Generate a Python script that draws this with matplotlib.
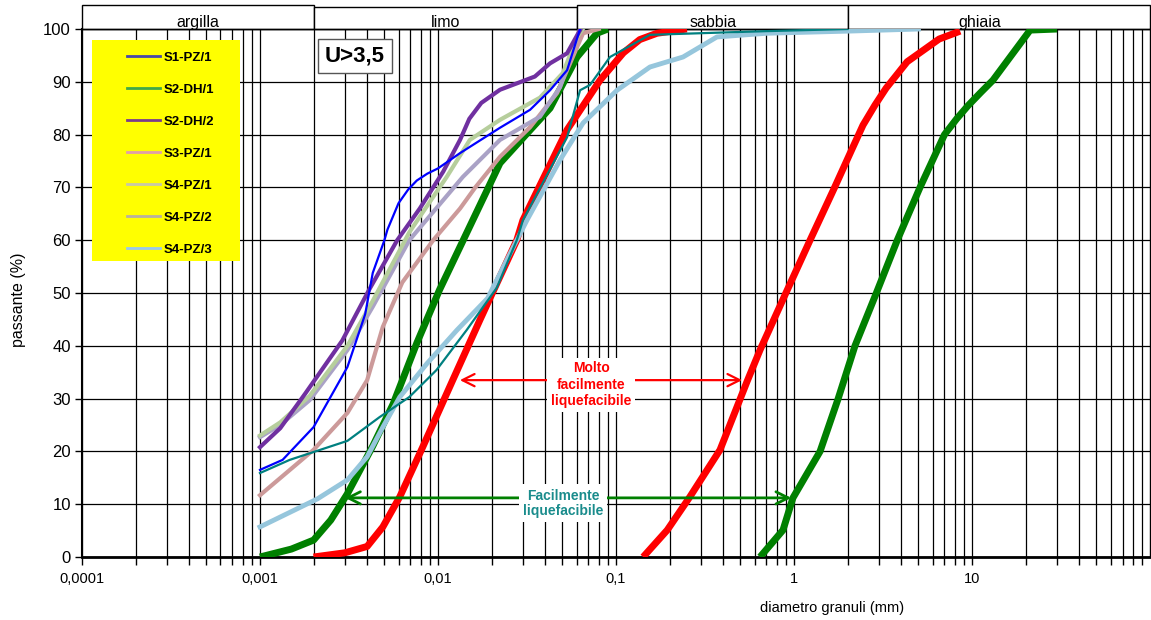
import numpy as np
import matplotlib
matplotlib.use("Agg")
import matplotlib.pyplot as plt
from matplotlib.lines import Line2D
from matplotlib.patches import Rectangle
from matplotlib.transforms import blended_transform_factory

plt.rcParams['font.family'] = ['Liberation Sans', 'DejaVu Sans']

# curve granulometriche (diametro mm, passante %)
s1_pz1_d = [0.001, 0.00134, 0.002, 0.0031, 0.0039, 0.0043, 0.005, 0.0052, 0.006, 0.0068, 0.0076, 0.0087, 0.01, 0.0133, 0.0223, 0.0329, 0.0426, 0.0531, 0.0628]
s1_pz1_p = [16.5, 18.4, 24.6, 36, 46, 53.8, 60, 62, 67, 69.6, 71.3, 72.6, 73.6, 76.5, 81.3, 84.7, 88.4, 92.2, 100]

s2_dh1_d = [0.001, 0.00147, 0.0031, 0.0047, 0.0069, 0.0098, 0.0145, 0.0214, 0.0277, 0.030, 0.0531, 0.0628, 0.0714, 0.0925, 0.155, 0.295, 0.7, 2]
s2_dh1_p = [15.9, 18.4, 22, 26.5, 30.3, 35.4, 43, 51, 60, 63.8, 79.5, 88.4, 89.4, 94.7, 98.9, 99.2, 99.6, 100]

s2_dh2_d = [0.001, 0.0013, 0.0018, 0.0029, 0.0041, 0.0059, 0.0079, 0.0107, 0.0133, 0.0150, 0.0175, 0.0223, 0.035, 0.0426, 0.0531, 0.0628]
s2_dh2_p = [20.8, 24.4, 31, 41, 50.6, 60, 66, 73, 79, 83, 86, 88.5, 91, 93.5, 95.4, 99.8]

s3_pz1_d = [0.001, 0.002, 0.0031, 0.004, 0.0049, 0.0063, 0.0094, 0.0133, 0.0162, 0.0223, 0.0329, 0.0467, 0.0531, 0.0653, 0.08]
s3_pz1_p = [11.7, 20.3, 27.3, 33.5, 43.6, 52, 60, 66, 70, 75.8, 81.4, 87.9, 92.2, 99.2, 100]

s4_pz1_d = [0.001, 0.0013, 0.0019, 0.0031, 0.0043, 0.0069, 0.0112, 0.0151, 0.0223, 0.0374, 0.0504, 0.0604, 0.065]
s4_pz1_p = [23, 25.5, 30.5, 40, 48.5, 61.5, 72, 79, 82.8, 87, 91.7, 98.5, 100]

s4_pz2_d = [0.001, 0.0013, 0.0019, 0.0031, 0.0043, 0.0069, 0.0138, 0.0223, 0.0374, 0.0485, 0.0628]
s4_pz2_p = [22.7, 25, 29.7, 39.2, 47.4, 60, 72, 79, 83.4, 89, 100]

s4_pz3_d = [0.001, 0.0021, 0.0031, 0.004, 0.0049, 0.0061, 0.0087, 0.0128, 0.019, 0.0277, 0.0316, 0.0485, 0.0653, 0.1013, 0.155, 0.238, 0.369, 0.705, 2, 5]
s4_pz3_p = [5.7, 11, 14.6, 19, 24.6, 30.3, 36.7, 43, 49, 60, 63.8, 75.2, 82.2, 88.4, 92.8, 94.7, 98.5, 99.2, 99.6, 100]

# fusi granulometrici di riferimento
molto_sx_d = [0.002, 0.003, 0.004, 0.0049, 0.0061, 0.0082, 0.0121, 0.0172, 0.0277, 0.030, 0.0531, 0.0813, 0.11, 0.136, 0.17, 0.25]
molto_sx_p = [0, 0.8, 2, 5.7, 11.4, 20.8, 33.5, 44.9, 60, 63.8, 80.9, 90.3, 95.5, 98, 99.2, 100]
molto_dx_d = [0.142, 0.194, 0.26, 0.384, 0.544, 0.644, 0.9, 1.23, 1.69, 2.1, 2.44, 2.85, 3.29, 4.32, 5.44, 6.53, 8.57]
molto_dx_p = [0, 5.1, 11.4, 20.3, 33.2, 39.2, 50, 60, 70, 77, 81.8, 85.6, 88.8, 93.8, 96.2, 98.1, 99.6]

facil_sx_d = [0.001, 0.0015, 0.002, 0.0025, 0.0031, 0.0043, 0.0056, 0.0076, 0.0102, 0.0223, 0.0426, 0.0604, 0.0782, 0.09]
facil_sx_p = [0, 1.5, 3.2, 7, 12, 21, 29, 40.5, 50.6, 74.6, 85, 94.7, 99.2, 100]
facil_dx_d = [0.644, 0.867, 0.986, 1.4, 1.77, 2.2, 2.9, 3.8, 5.1, 7.0, 8.2, 9.5, 11.2, 13.1, 21.2, 30]
facil_dx_p = [0, 5.1, 11.2, 20, 30, 40, 50, 60, 70, 80, 83, 85.5, 88, 90.3, 99.8, 100]

series_names = ['S1-PZ/1', 'S2-DH/1', 'S2-DH/2', 'S3-PZ/1', 'S4-PZ/1', 'S4-PZ/2', 'S4-PZ/3']
legend_colors = ['#4848A8', '#40A848', '#7A3C8C', '#E0A0A8', '#C8C8A8', '#B8B0A0', '#98C8EC']

classi = ['argilla', 'limo', 'sabbia', 'ghiaia']
classi_lim = [0.0001, 0.002, 0.06, 2, 100]
classi_txt_x = [0.00045, 0.011, 0.35, 11]

decadi = [0.0001, 0.001, 0.01, 0.1, 1, 10]
decadi_lab = ['0,0001', '0,001', '0,01', '0,1', '1', '10']

fig = plt.figure(figsize=(11.51, 6.2), dpi=100)
ax = fig.add_axes([0.0712, 0.1016, 0.928, 0.8516])

# fusi
ax.plot(facil_sx_d, facil_sx_p, color='#008000', lw=5, zorder=3, solid_capstyle='butt')
ax.plot(facil_dx_d, facil_dx_p, color='#008000', lw=5, zorder=3, solid_capstyle='butt')
ax.plot(molto_sx_d, molto_sx_p, color='#FF0000', lw=5, zorder=3, solid_capstyle='butt')
ax.plot(molto_dx_d, molto_dx_p, color='#FF0000', lw=5, zorder=3, solid_capstyle='butt')

# campioni
ax.plot(s4_pz3_d, s4_pz3_p, color='#96C6DC', lw=3.5, zorder=4)
ax.plot(s3_pz1_d, s3_pz1_p, color='#CC9A9A', lw=3, zorder=4)
ax.plot(s4_pz2_d, s4_pz2_p, color='#AAA2C6', lw=3, zorder=4)
ax.plot(s4_pz1_d, s4_pz1_p, color='#B6CE9C', lw=3, zorder=4)
ax.plot(s2_dh2_d, s2_dh2_p, color='#7030A0', lw=3, zorder=5)
ax.plot(s2_dh1_d, s2_dh1_p, color='#008080', lw=1.6, zorder=5)
ax.plot(s1_pz1_d, s1_pz1_p, color='#0000FF', lw=1.6, zorder=5)

ax.set_xscale('log')
ax.set_xlim(0.0001, 100)
ax.set_ylim(0, 100)
ax.set_xticks(decadi)
ax.set_xticklabels(decadi_lab, fontsize=10.5)
minori = [m * d for d in [0.0001, 0.001, 0.01, 0.1, 1, 10] for m in range(2, 10)]
ax.set_xticks(minori, minor=True)
ax.xaxis.set_minor_formatter(matplotlib.ticker.NullFormatter())
ax.set_yticks(np.arange(0, 101, 10))
ax.tick_params(axis='y', labelsize=12, length=5, width=1, direction='out', pad=3)
ax.tick_params(axis='x', which='both', length=6, width=1, direction='out', pad=5)
ax.grid(True, which='both', axis='x', color='black', lw=0.9)
ax.grid(True, which='major', axis='y', color='black', lw=0.9)
ax.set_axisbelow(True)
for s in ax.spines.values():
    s.set_color('black')
    s.set_linewidth(1)
ax.spines['bottom'].set_linewidth(2)
ax.spines['left'].set_linewidth(1.5)

ax.set_ylabel('passante (%)', fontsize=11.5)
ax.yaxis.set_label_coords(-0.052, 0.487)
ax.set_xlabel('diametro granuli (mm)', fontsize=10.5)
ax.xaxis.set_label_coords(0.702, -0.083)

# fascia delle classi granulometriche
tr = blended_transform_factory(ax.transData, ax.transAxes)
for i, nome in enumerate(classi):
    top = 1.041 if nome == 'limo' else 1.045
    rect = Rectangle((classi_lim[i], 1.0), classi_lim[i + 1] - classi_lim[i], top - 1.0,
                     transform=tr, facecolor='white', edgecolor='black', lw=1, clip_on=False)
    ax.add_patch(rect)
    t = ax.text(classi_txt_x[i], 1.004, nome, transform=tr, ha='center', va='baseline',
                fontsize=11.5, clip_on=True)
    t.set_clip_path(rect)

# legenda su fondo giallo
ax.add_patch(Rectangle((0.0094, 0.5606), 0.1386, 0.4184, transform=ax.transAxes,
                       facecolor='#FFFF00', edgecolor='none', zorder=6))
handles = [Line2D([], [], color=c, lw=2) for c in legend_colors]
leg = ax.legend(handles, series_names, loc='upper left', bbox_to_anchor=(0.031, 0.98),
                frameon=False, handlelength=2.5, handletextpad=0.3, labelspacing=1.5,
                prop={'weight': 'bold', 'size': 9.5})
leg.set_zorder(7)

ax.text(0.2556, 0.949, 'U>3,5', transform=ax.transAxes, fontsize=16, fontweight='bold',
        ha='center', va='center', zorder=7,
        bbox=dict(boxstyle='square,pad=0.3', facecolor='white', edgecolor='#555555', lw=1))

# frecce dei campi di liquefacibilita
ax.annotate('', xy=(0.0128, 33.5), xytext=(0.53, 33.5),
            arrowprops=dict(arrowstyle='<->', color='#FF0000', lw=1.6, mutation_scale=22), zorder=6)
ax.annotate('', xy=(0.0029, 11.2), xytext=(1.0, 11.2),
            arrowprops=dict(arrowstyle='<->', color='#008000', lw=2, mutation_scale=22), zorder=6)
ax.text(0.0725, 32.6, 'Molto\nfacilmente\nliquefacibile', color='#FF0000', fontsize=10,
        fontweight='bold', ha='center', va='center', linespacing=1.22, zorder=7,
        bbox=dict(boxstyle='square,pad=0.25', facecolor='white', edgecolor='none'))
ax.text(0.0503, 10.2, 'Facilmente\nliquefacibile', color='#1A8C8C', fontsize=10,
        fontweight='bold', ha='center', va='center', linespacing=1.1, zorder=7,
        bbox=dict(boxstyle='square,pad=0.3', facecolor='white', edgecolor='none'))

fig.savefig('out.png', dpi=100)
